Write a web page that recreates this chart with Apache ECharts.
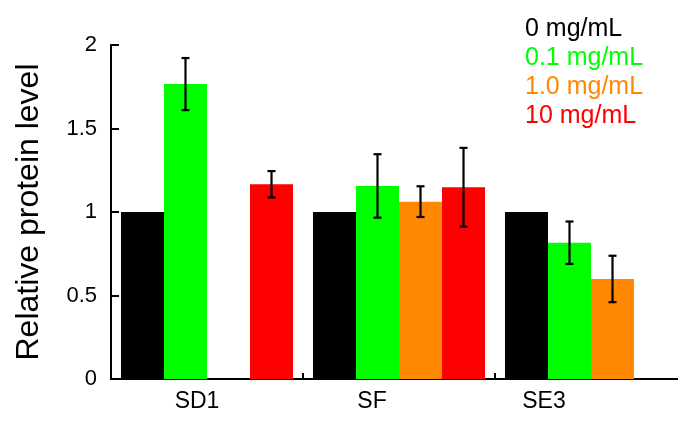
<!DOCTYPE html>
<html>
<head>
<meta charset="utf-8">
<title>Relative protein level</title>
<script src="https://cdn.jsdelivr.net/npm/echarts@6/dist/echarts.min.js"></script>
<style>
html, body { margin: 0; padding: 0; background: #fff; }
#main { width: 678px; height: 421px; }
</style>
</head>
<body>
<div id="main"></div>
<script>
// 数据
var categories = ['SD1', 'SF', 'SE3'];
var seriesNames = ['0 mg/mL', '0.1 mg/mL', '1.0 mg/mL', '10 mg/mL'];
var seriesColors = ['#000000', '#00ff00', '#ff8800', '#ff0000'];
var values0 = [1, 1, 1];
var values01 = [1.766, 1.156, 0.816];
var values1 = [null, 1.062, 0.599];
var values10 = [1.166, 1.148, null];
var errors0 = [null, null, null];
var errors01 = [0.156, 0.19, 0.127];
var errors1 = [null, 0.092, 0.139];
var errors10 = [0.079, 0.236, null];
var yTicks = [0, 0.5, 1, 1.5, 2];

// 标签偏移 (原图标签不在组中心)
var labelShift = [20, 54, 94];

var allValues = [values0, values01, values1, values10];
var allErrors = [errors0, errors01, errors1, errors10];
var gapRatio = 0.104;

var seriesArr = [];
for (var i = 0; i < seriesNames.length; i++) {
	seriesArr.push({
		name: seriesNames[i],
		type: 'bar',
		barGap: 0,
		barCategoryGap: (gapRatio * 100) + '%',
		itemStyle: { color: seriesColors[i] },
		emphasis: { disabled: true },
		data: allValues[i].map(function (v) { return v == null ? '-' : v; })
	});
}

// 误差线
var errData = [];
for (var s = 0; s < allValues.length; s++) {
	for (var c = 0; c < categories.length; c++) {
		var v = allValues[s][c], e = allErrors[s][c];
		if (v == null || e == null) continue;
		errData.push([c, v - e, v + e, s]);
	}
}
seriesArr.push({
	type: 'custom',
	silent: true,
	z: 10,
	encode: { x: 0, y: [1, 2] },
	data: errData,
	renderItem: function (params, api) {
		var cat = api.value(0);
		var band = api.size([1, 0])[0];
		var barW = band * (1 - gapRatio) / seriesNames.length;
		var cx = api.coord([cat, 0])[0] + (api.value(3) - (seriesNames.length - 1) / 2) * barW;
		var yLow = api.coord([cat, api.value(1)])[1];
		var yHigh = api.coord([cat, api.value(2)])[1];
		var cap = 4;
		var st = { stroke: '#000', lineWidth: 2.2 };
		return {
			type: 'group',
			children: [
				{ type: 'line', shape: { x1: cx, y1: yLow, x2: cx, y2: yHigh }, style: st },
				{ type: 'line', shape: { x1: cx - cap, y1: yHigh, x2: cx + cap, y2: yHigh }, style: st },
				{ type: 'line', shape: { x1: cx - cap, y1: yLow, x2: cx + cap, y2: yLow }, style: st }
			]
		};
	}
});

var rich = {};
for (var k = 0; k < categories.length; k++) {
	rich['c' + k] = {
		fontFamily: 'Liberation Sans',
		fontSize: 23,
		color: '#000',
		padding: [0, labelShift[k], 0, 0]
	};
}

var option = {
	animation: false,
	backgroundColor: '#fff',
	grid: { left: 111, width: 576, top: 45, height: 334, outerBoundsMode: 'none', containLabel: false },
	legend: {
		orient: 'vertical',
		left: 520,
		top: 15,
		padding: 0,
		itemGap: 0,
		itemWidth: 0,
		itemHeight: 0,
		icon: 'none',
		selectedMode: false,
		textStyle: { fontFamily: 'Liberation Sans', fontSize: 25, lineHeight: 29 },
		data: seriesNames.map(function (n, i) {
			return { name: n, textStyle: { color: seriesColors[i] } };
		})
	},
	xAxis: {
		type: 'category',
		data: categories,
		axisLine: { lineStyle: { color: '#000', width: 2 } },
		axisTick: { show: true, inside: true, length: 6, lineStyle: { color: '#000', width: 2 } },
		axisLabel: {
			margin: 11,
			formatter: function (val, idx) {
				return '{c' + idx + '|' + val + '}';
			},
			rich: rich
		}
	},
	yAxis: {
		type: 'value',
		min: yTicks[0],
		max: yTicks[yTicks.length - 1],
		interval: 0.5,
		name: 'Relative protein level',
		nameLocation: 'middle',
		nameGap: 66,
		nameTextStyle: { fontFamily: 'Liberation Sans', fontSize: 32, color: '#000' },
		splitLine: { show: false },
		axisLine: { show: true, lineStyle: { color: '#000', width: 2 } },
		axisTick: { show: true, inside: true, length: 8, lineStyle: { color: '#000', width: 2 } },
		axisLabel: { margin: 14, fontFamily: 'Liberation Sans', fontSize: 22, color: '#000' }
	},
	series: seriesArr
};

var myChart = echarts.init(document.getElementById('main'));
myChart.setOption(option);
</script>
</body>
</html>
